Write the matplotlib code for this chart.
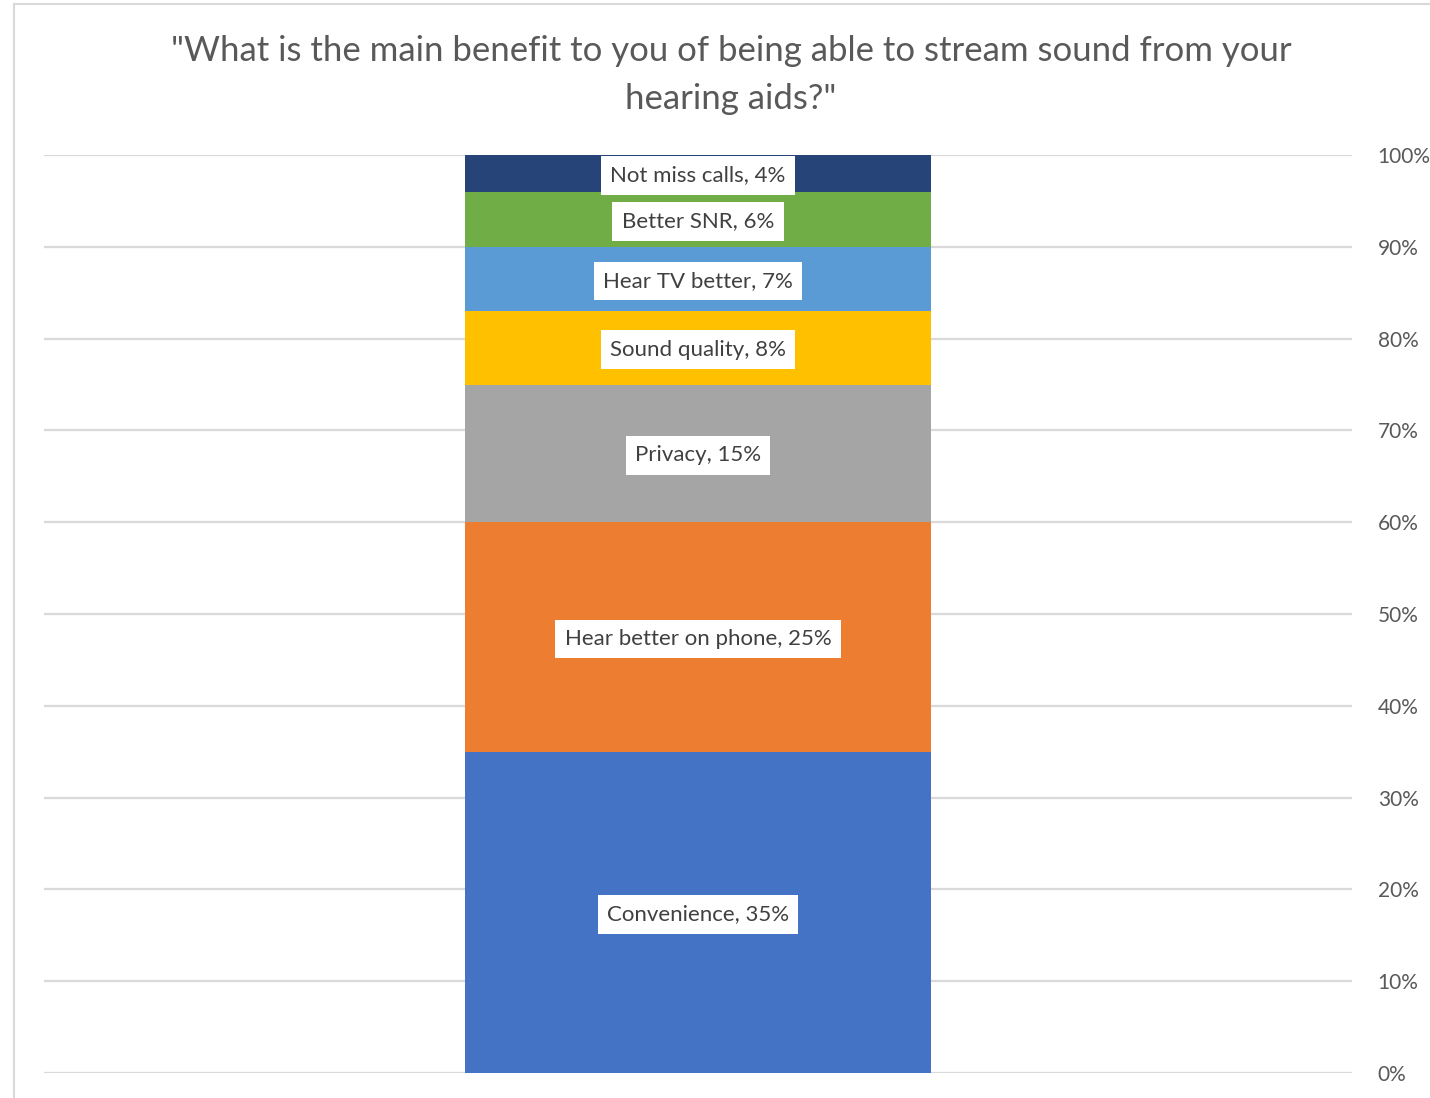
import matplotlib.pyplot as plt
from matplotlib.lines import Line2D
from matplotlib.ticker import FuncFormatter

# survey answers, stacked bottom to top
answers = ["Convenience", "Hear better on phone", "Privacy", "Sound quality",
           "Hear TV better", "Better SNR", "Not miss calls"]
shares = [35, 25, 15, 8, 7, 6, 4]
colors = ["#4472C4", "#ED7D31", "#A5A5A5", "#FFC000",
          "#5B9BD5", "#70AD47", "#264478"]
yticks = [0, 10, 20, 30, 40, 50, 60, 70, 80, 90, 100]

plt.rcParams['font.family'] = ['Lato', 'DejaVu Sans']

fig = plt.figure(figsize=(14.3, 10.98), dpi=100)
ax = fig.add_axes([44/1430, 25/1098, 1308/1430, 918/1098])

bottom = 0
for name, val, col in zip(answers, shares, colors):
    ax.bar(0, val, width=1.0, bottom=bottom, color=col, zorder=2)
    ax.text(0, bottom + val/2, f"{name}, {val}%", ha='center', va='center_baseline',
            fontsize=16, color='#404040', zorder=3,
            bbox=dict(boxstyle='square,pad=0.42', fc='white', ec='none'))
    bottom += val

half = 1308/466/2
ax.set_xlim(-half, half)
ax.set_ylim(0, 100)
ax.set_xticks([])
ax.set_yticks(yticks)
ax.yaxis.set_major_formatter(FuncFormatter(lambda v, p: f"{v:.0f}%"))
ax.yaxis.tick_right()
ax.tick_params(axis='y', length=0, pad=18.5, labelsize=15, labelcolor='#595959')
ax.grid(axis='y', color='#d9d9d9', linewidth=1.6, zorder=0)
for s in ax.spines.values():
    s.set_visible(False)

fig.text(731/1430, 1 - 75/1098,
         '"What is the main benefit to you of being able to stream sound from your\nhearing aids?"',
         ha='center', va='center', fontsize=25, color='#595959', linespacing=1.62)

# chart area border
fig.add_artist(Line2D([14/1430, 14/1430], [0, 1 - 4/1098], color='#d9d9d9', lw=1.5))
fig.add_artist(Line2D([14/1430, 1], [1 - 4/1098, 1 - 4/1098], color='#d9d9d9', lw=1.5))

fig.savefig('out.png', dpi=100)
